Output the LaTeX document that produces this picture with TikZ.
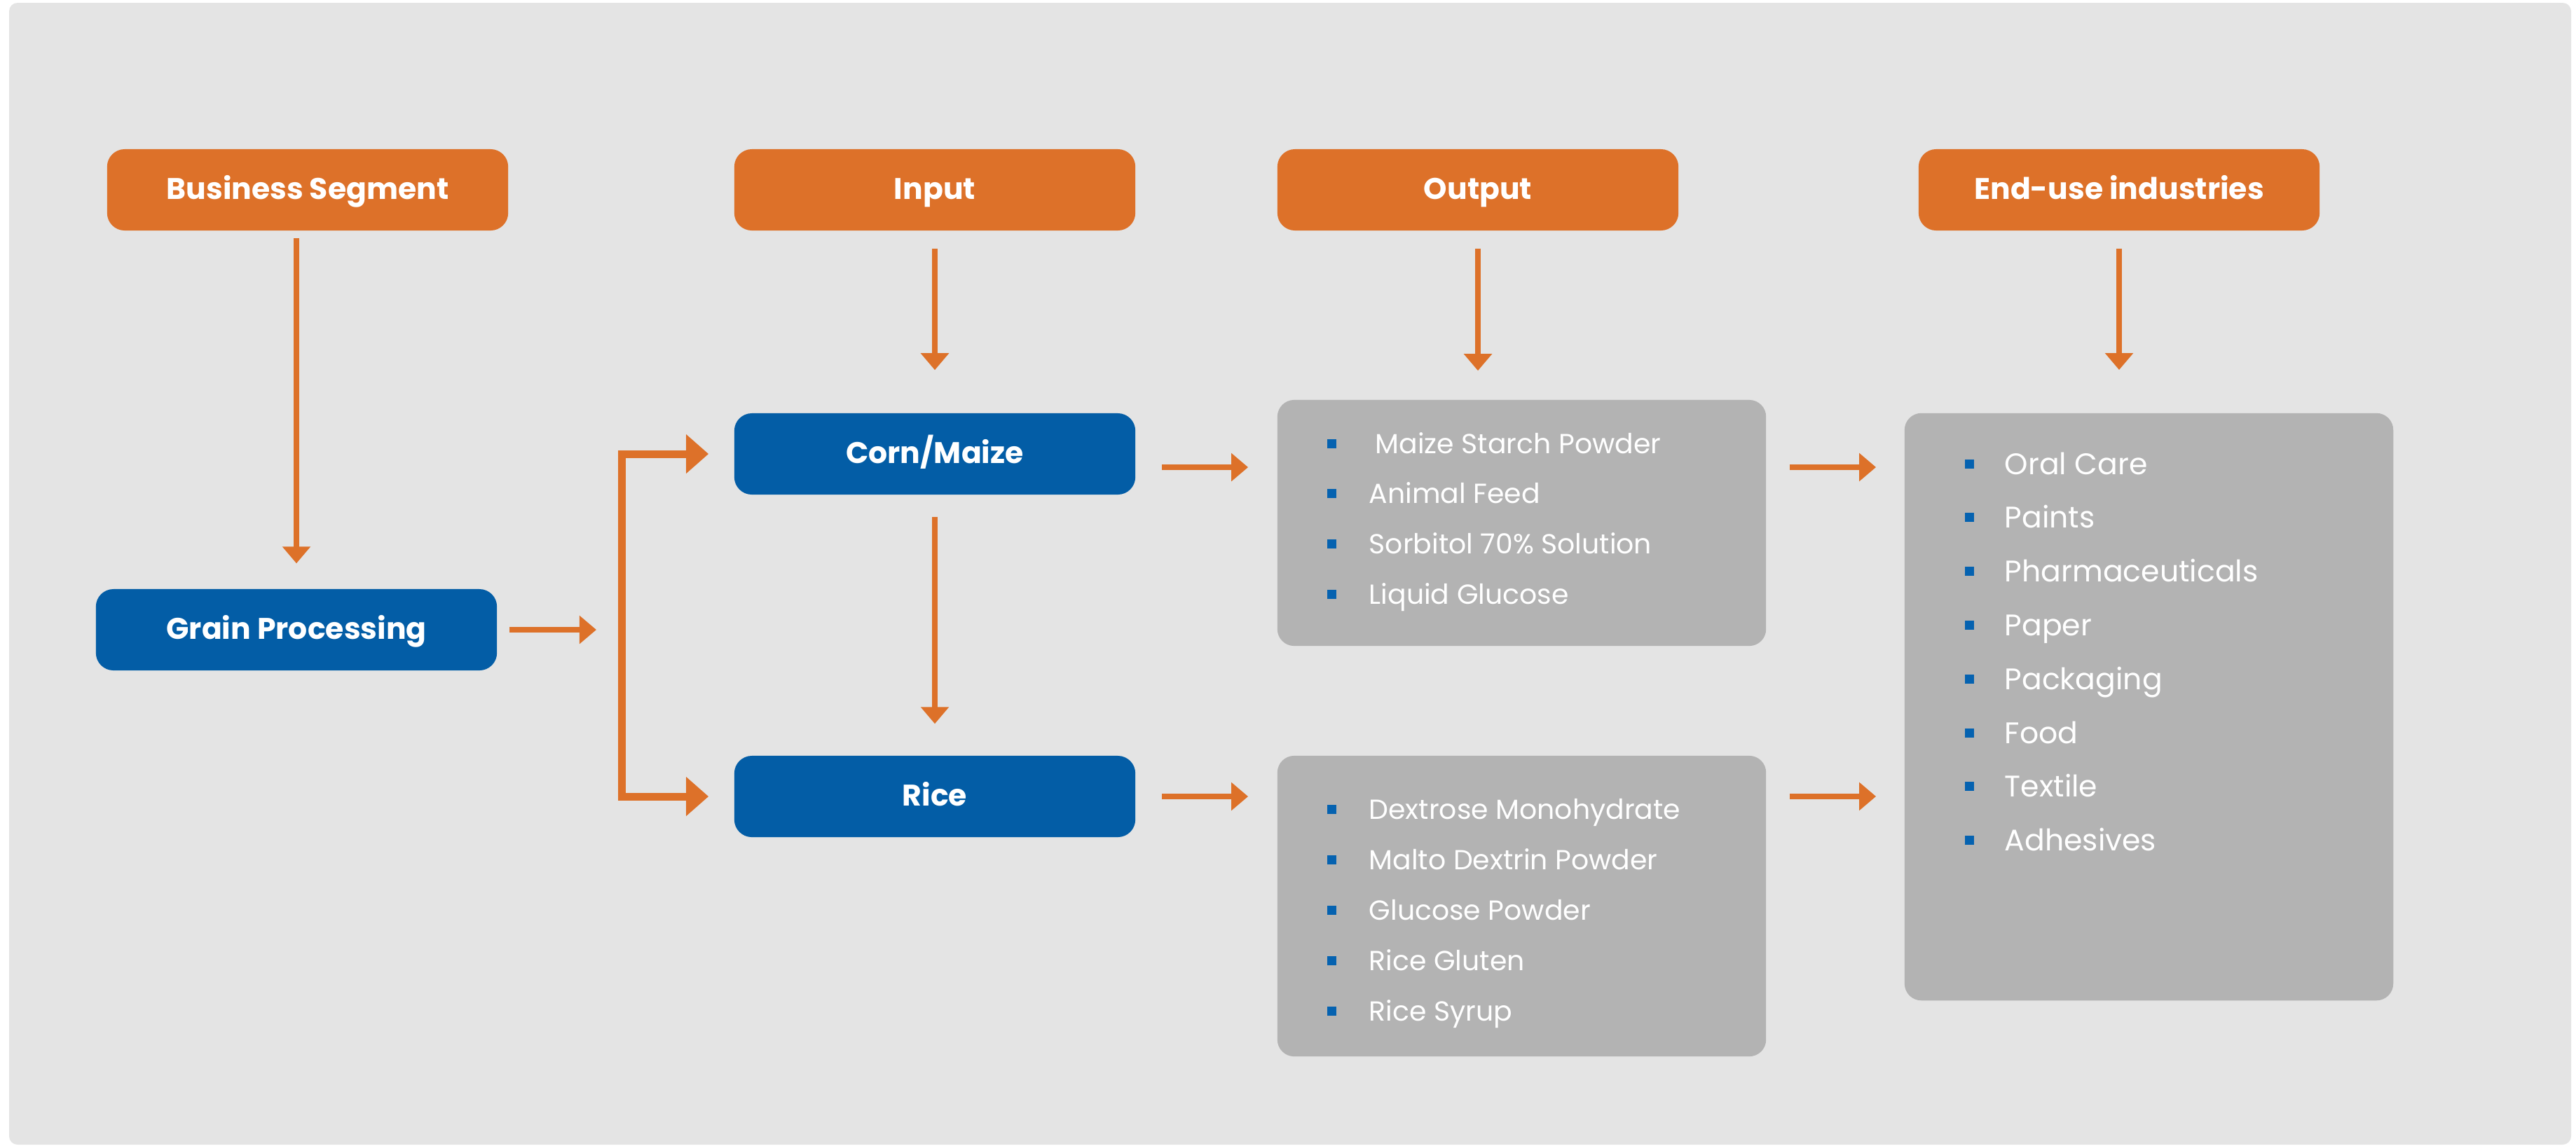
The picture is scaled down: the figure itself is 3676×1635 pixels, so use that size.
\documentclass[tikz,border=0pt]{standalone}
\usepackage{fontspec}
\setmainfont{Poppins}
\usetikzlibrary{arrows.meta,calc}
\definecolor{bgc}{HTML}{E4E4E4}
\definecolor{orng}{HTML}{DD7129}
\definecolor{blu}{HTML}{035DA6}
\definecolor{gry}{HTML}{B3B3B3}
\definecolor{bul}{HTML}{0562B0}
\begin{document}
\begin{tikzpicture}[x=0.01cm,y=-0.01cm,
  hdr/.style={fill=orng, rounded corners=0.25cm, minimum width=5.72cm, minimum height=1.16cm, inner sep=0pt, text=white, text height=0.31cm, text depth=0.04cm, font=\bfseries\fontsize{12.1}{15}\selectfont},
  blubox/.style={hdr, fill=blu},
  grybox/.style={fill=gry, rounded corners=0.24cm, inner sep=0pt, minimum width=6.97cm},
  arr/.style={color=orng, line width=0.08cm, -{Triangle[length=0.24cm,width=0.39cm]}},
  bigarr/.style={color=orng, line width=0.11cm, {Triangle[length=0.32cm,width=0.54cm]}-{Triangle[length=0.32cm,width=0.54cm]}},
  itemA/.style={anchor=base west, text=white, font=\fontsize{11.2}{13}\selectfont, inner sep=0pt},
  itemB/.style={anchor=base west, text=white, font=\fontsize{12.1}{15}\selectfont, inner sep=0pt},
  bulletsq/.style={fill=bul, minimum size=0.13cm, inner sep=0pt}
]
\useasboundingbox (0,0) rectangle (3676,1635);
\fill[white] (0,0) rectangle (3676,1635);
\fill[bgc, rounded corners=0.12cm] (13,4) rectangle (3669,1634);

% headers
\node[hdr] (bs) at (439,271) {Business Segment};
\node[hdr] (inp) at (1334,271) {Input};
\node[hdr] (outp) at (2109,271) {Output};
\node[hdr] (endh) at (3024,271) {End-use industries};

% blue boxes
\node[blubox] (grain) at (423,899) {Grain Processing};
\node[blubox] (corn) at (1334,648) {Corn/Maize};
\node[blubox] (rice) at (1334,1137) {Rice};

% grey boxes
\node[grybox, minimum height=3.51cm] (out1) at (2171.5,746.5) {};
\node[grybox, minimum height=4.29cm] (out2) at (2171.5,1293.5) {};
\node[grybox, minimum height=8.38cm] (endbox) at (3066.5,1009) {};

% lists
\foreach \t [count=\i] in {{\hspace*{0.09cm}Maize Starch Powder},{Animal Feed},{Sorbitol 70\% Solution},{Liquid Glucose}} {
  \node[bulletsq] (ba\i) at (1900,{633+71.8*(\i-1)}) {};
  \node[itemA] (ta\i) at (1953,{647+71.8*(\i-1)}) {\t};
}
\foreach \t [count=\i] in {{Dextrose Monohydrate},{Malto Dextrin Powder},{Glucose Powder},{Rice Gluten},{Rice Syrup}} {
  \node[bulletsq] (bb\i) at (1900,{1155+72*(\i-1)}) {};
  \node[itemA] (tb\i) at (1953,{1169+72*(\i-1)}) {\t};
}
\foreach \t [count=\i] in {{Oral Care},{Paints},{Pharmaceuticals},{Paper},{Packaging},{Food},{Textile},{Adhesives}} {
  \node[bulletsq] (bc\i) at (2810,{662+76.8*(\i-1)}) {};
  \node[itemB] (tc\i) at (2860,{677+76.8*(\i-1)}) {\t};
}

% connectors
\coordinate (jn) at (887,899);
\draw[arr, shorten <=0.10cm, shorten >=0.36cm] (bs.south -| grain.north) -- (grain.north);
\draw[arr, shorten <=0.25cm, shorten >=0.61cm] (inp.south) -- (corn.north);
\draw[arr, shorten <=0.25cm, shorten >=0.41cm] (outp.south) -- (outp.south |- out1.north);
\draw[arr, shorten <=0.25cm, shorten >=0.61cm] (endh.south) -- (endh.south |- endbox.north);
\draw[arr, shorten <=0.31cm, shorten >=0.45cm] (corn.south) -- (rice.north);
\draw[arr, shorten <=0.17cm, shorten >=0.36cm] (grain.east) -- (grain.east -| jn);
\draw[bigarr] ([xshift=-0.36cm]corn.west) -- (corn.west -| jn) -- (rice.west -| jn) -- ([xshift=-0.36cm]rice.west);
\draw[arr, shorten <=0.37cm, shorten >=0.41cm] ([yshift=-0.19cm]corn.east) -- ([yshift=-0.19cm]corn.east -| out1.west);
\draw[arr, shorten <=0.37cm, shorten >=0.41cm] (rice.east) -- (rice.east -| out2.west);
\draw[arr, shorten <=0.33cm, shorten >=0.40cm] ([yshift=0.795cm]out1.east) -- ([yshift=0.795cm]out1.east -| endbox.west);
\draw[arr, shorten <=0.33cm, shorten >=0.40cm] ([yshift=1.565cm]out2.east) -- ([yshift=1.565cm]out2.east -| endbox.west);
\end{tikzpicture}
\end{document}
